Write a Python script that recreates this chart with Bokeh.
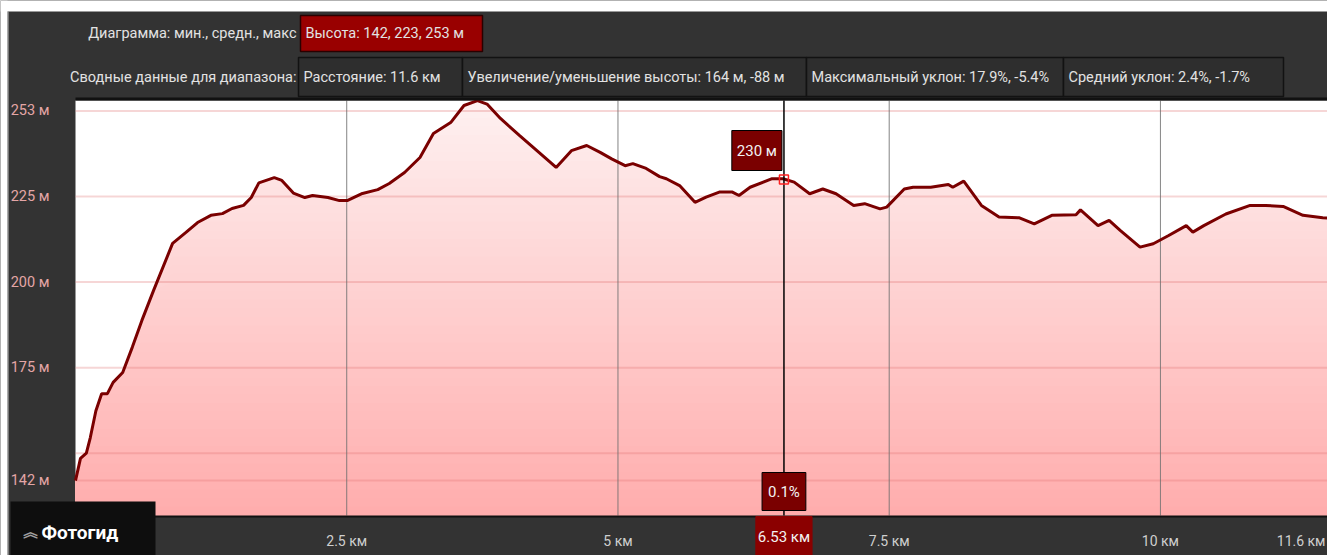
import numpy as np
from bokeh.plotting import figure
from bokeh.models import Label, Range1d
from bokeh.core.properties import value
from bokeh.embed import file_html
from bokeh.resources import INLINE

# ---------------- data ----------------
dist_km = [0.0, 0.046, 0.10, 0.136, 0.188, 0.241, 0.294, 0.347, 0.435, 0.524, 0.612, 0.719,
           0.895, 1.018, 1.125, 1.248, 1.354, 1.443, 1.549, 1.62, 1.69, 1.832, 1.902, 2.008,
           2.114, 2.185, 2.327, 2.433, 2.504, 2.645, 2.786, 2.892, 3.033, 3.175, 3.299, 3.458,
           3.581, 3.705, 3.793, 3.917, 4.094, 4.253, 4.43, 4.571, 4.712, 4.836, 4.942, 5.066,
           5.137, 5.26, 5.384, 5.446, 5.568, 5.71, 5.812, 5.934, 6.055, 6.116, 6.218, 6.421,
           6.522, 6.624, 6.767, 6.888, 7.01, 7.173, 7.274, 7.416, 7.477, 7.639, 7.72, 7.883,
           8.045, 8.086, 8.187, 8.35, 8.512, 8.695, 8.837, 8.999, 9.222, 9.263, 9.425, 9.527,
           9.629, 9.812, 9.934, 10.076, 10.238, 10.299, 10.4, 10.603, 10.827, 10.969, 11.131,
           11.314, 11.496, 11.6]
elev_m = [142, 148.5, 150, 154.5, 162.4, 167.4, 167.4, 170.7, 173.6, 181, 188.8, 197.5,
          211.3, 214.5, 217.4, 219.5, 220, 221.5, 222.4, 224.7, 229, 230.5, 229.7, 226,
          224.7, 225.3, 224.7, 223.8, 223.8, 225.9, 227, 228.8, 232, 236.4, 243.4, 246.6,
          251.6, 253, 252, 247.8, 242.8, 238.4, 233.5, 238.4, 239.9, 237.9, 236, 234,
          234.6, 233.2, 230.8, 230.2, 228.2, 223.3, 224.8, 226.3, 226.3, 225.3, 227.7, 230.2,
          230.2, 229.2, 225.8, 227.2, 225.8, 222.4, 222.9, 221.4, 221.9, 227.2, 227.7, 227.7,
          228.5, 227.7, 229.5, 222.4, 219, 218.8, 217, 219.5, 219.7, 221.1, 216.5, 218,
          215.1, 210.2, 211.2, 213.6, 216.5, 214.6, 216.5, 219.9, 222.4, 222.4, 222.1,
          219.5, 218.8, 218.5]

ytick_vals = [142, 175, 200, 225, 250]
ytick_labels = ["142 м", "175 м", "200 м", "225 м", "253 м"]
grid_levels = [142, 150, 175, 200, 225, 250]
xtick_vals = [2.5, 5, 7.5, 10]
xtick_labels = ["2.5 км", "5 км", "7.5 км", "10 км"]
total_label = "11.6 км"
cursor_km = 6.53
cursor_elev = 230
cursor_elev_label = "230 м"
cursor_grade_label = "0.1%"
cursor_km_label = "6.53 км"

header1_prefix = "Диаграмма: мин., средн., макс"
header1_box = "Высота: 142, 223, 253 м"
header2_prefix = "Сводные данные для диапазона:"
header2_boxes = ["Расстояние: 11.6 км",
                 "Увеличение/уменьшение высоты: 164 м, -88 м",
                 "Максимальный уклон: 17.9%, -5.4%",
                 "Средний уклон: 2.4%, -1.7%"]
footer_label = "Фотогид"
footer_icon = "︽"

# ---------------- layout (pixels) ----------------
FONT = "Roboto"
W, H = 1327, 555
PL, PT, PB = 75, 100, 515          # plot area left / top / bottom in pixels
X_END = 11.54                      # visible distance at right edge
Y0, Y1 = 131.8, 253.05             # elevation at plot bottom / top

ppk = (W - PL) / X_END
ppm = (PB - PT) / (Y1 - Y0)

p = figure(width=W, height=H, output_backend="svg", toolbar_location=None,
           x_range=Range1d(-PL / ppk, X_END),
           y_range=Range1d(Y0 - (H - PB) / ppm, Y1 + PT / ppm),
           x_axis_location=None, y_axis_location=None, min_border=0,
           background_fill_color="#333333", border_fill_color="#333333",
           outline_line_color=None)
p.extra_x_ranges = {"px": Range1d(0, W)}
p.extra_y_ranges = {"px": Range1d(H, 0)}
p.grid.visible = False

PX = dict(x_range_name="px", y_range_name="px")

# page margin strips of the original screenshot
p.quad(left=0, right=W, top=0, bottom=11, fill_color="white", line_color=None, **PX)
p.quad(left=0, right=7, top=0, bottom=H, fill_color="white", line_color=None, **PX)
p.quad(left=7, right=8, top=11, bottom=H, fill_color="#bdbdbd", line_color=None, **PX)

x = np.array(dist_km, dtype=float)
y = np.array(elev_m, dtype=float)

# plot area
p.quad(left=0, right=X_END, bottom=Y0, top=Y1, fill_color="white", line_color=None)

# gradient fill under profile
N = 48
top_rgb = np.array([254, 240, 240])
bot_rgb = np.array([255, 172, 172])
for b in np.linspace(Y1, Y0, N + 1)[:-1]:
    t = (b - Y0) / (Y1 - Y0)
    c = (bot_rgb + (top_rgb - bot_rgb) * t).round().astype(int)
    p.varea(x=x, y1=Y0, y2=np.minimum(y, b), fill_color="#%02x%02x%02x" % tuple(c))

# grid lines
p.segment(x0=PL, x1=W, y0=grid_levels, y1=grid_levels, line_color="#e06a6a",
          line_alpha=0.28, line_width=2, x_range_name="px")
p.segment(x0=xtick_vals, x1=xtick_vals, y0=Y0, y1=Y1, line_color="#6e6e6e",
          line_alpha=0.85, line_width=1)

# profile
p.line(x, y, line_color="#7a0000", line_width=3)

# plot area borders
p.segment(x0=[PL, PL], x1=[W, W], y0=[98.5, 516], y1=[98.5, 516],
          line_color="#111111", line_width=[3, 2], **PX)

# cursor
p.segment(x0=[cursor_km], x1=[cursor_km], y0=[Y0], y1=[Y1], line_color="#000000", line_width=1.5)
p.scatter(x=[cursor_km], y=[cursor_elev], marker="square", size=9,
          fill_color=None, line_color="#ff2020", line_width=1.5)

# axis tick labels
p.text(x=[49] * len(ytick_vals), y=ytick_vals, text=ytick_labels, x_range_name="px",
       text_align="right", text_baseline="middle", text_color="#e4a6a6",
       text_font=value(FONT), text_font_size="14.5px")
p.text(x=xtick_vals, y=[540] * len(xtick_vals), text=xtick_labels, y_range_name="px",
       text_align="center", text_baseline="middle", text_color="#cfcfcf",
       text_font=value(FONT), text_font_size="14px")
p.text(x=[1325], y=[540], text=[total_label], text_align="right", text_baseline="middle",
       text_color="#cfcfcf", text_font=value(FONT), text_font_size="14px", **PX)

# header
TXT = dict(text_baseline="middle", text_color="#e2e2e2", text_font=value(FONT),
           text_font_size="14.5px")
p.quad(left=300, right=482, top=15, bottom=51, fill_color="#990000",
       line_color="#2a0000", line_width=1.5, **PX)
p.text(x=[296], y=[33], text=[header1_prefix], text_align="right", **TXT, **PX)
p.text(x=[305], y=[33], text=[header1_box], text_align="left", **TXT, **PX)

row2_left = [298, 462, 806, 1063]
row2_right = [462, 806, 1063, 1283]
p.quad(left=row2_left, right=row2_right, top=57, bottom=96, fill_color="#2e2e2e",
       line_color="#121212", line_width=1.5, **PX)
p.text(x=[296], y=[77], text=[header2_prefix], text_align="right", **TXT, **PX)
p.text(x=[l + 5 for l in row2_left], y=[77] * 4, text=header2_boxes, text_align="left",
       **TXT, **PX)

# footer button
p.quad(left=10, right=155, top=501, bottom=H, fill_color="#0e0e0e", line_color=None, **PX)
p.text(x=[30], y=[530], text=[footer_icon], text_align="center", text_baseline="middle",
       text_color="#a0a0a0", text_font=value("Noto Sans CJK SC"), text_font_size="15px",
       text_font_style="bold", **PX)
p.text(x=[41], y=[532], text=[footer_label], text_align="left", text_baseline="middle",
       text_color="#ffffff", text_font=value(FONT), text_font_size="19px",
       text_font_style="bold", **PX)

# cursor labels (data x, screen y measured from bottom)
def cursor_label(s, sy, align, xoff, fill, border, pad):
    p.add_layout(Label(x=cursor_km, y=sy, x_units="data", y_units="screen", text=s,
                       x_offset=xoff, text_align=align, text_baseline="middle",
                       text_color="#f2f2f2", text_font=FONT, text_font_size="15px",
                       background_fill_color=fill, border_line_color=border,
                       padding=pad))

cursor_label(cursor_elev_label, H - 150, "right", -2, "#7a0000", "#000000",
             dict(left=5, right=5, top=11, bottom=11))
cursor_label(cursor_grade_label, H - 491, "center", 0, "#7a0000", "#000000",
             dict(left=6, right=6, top=10, bottom=10))
cursor_label(cursor_km_label, H - 536, "center", 0, "#8b0000", "#8b0000",
             dict(left=2, right=2, top=11, bottom=11))

open("out.html", "w").write(file_html(p, INLINE))
